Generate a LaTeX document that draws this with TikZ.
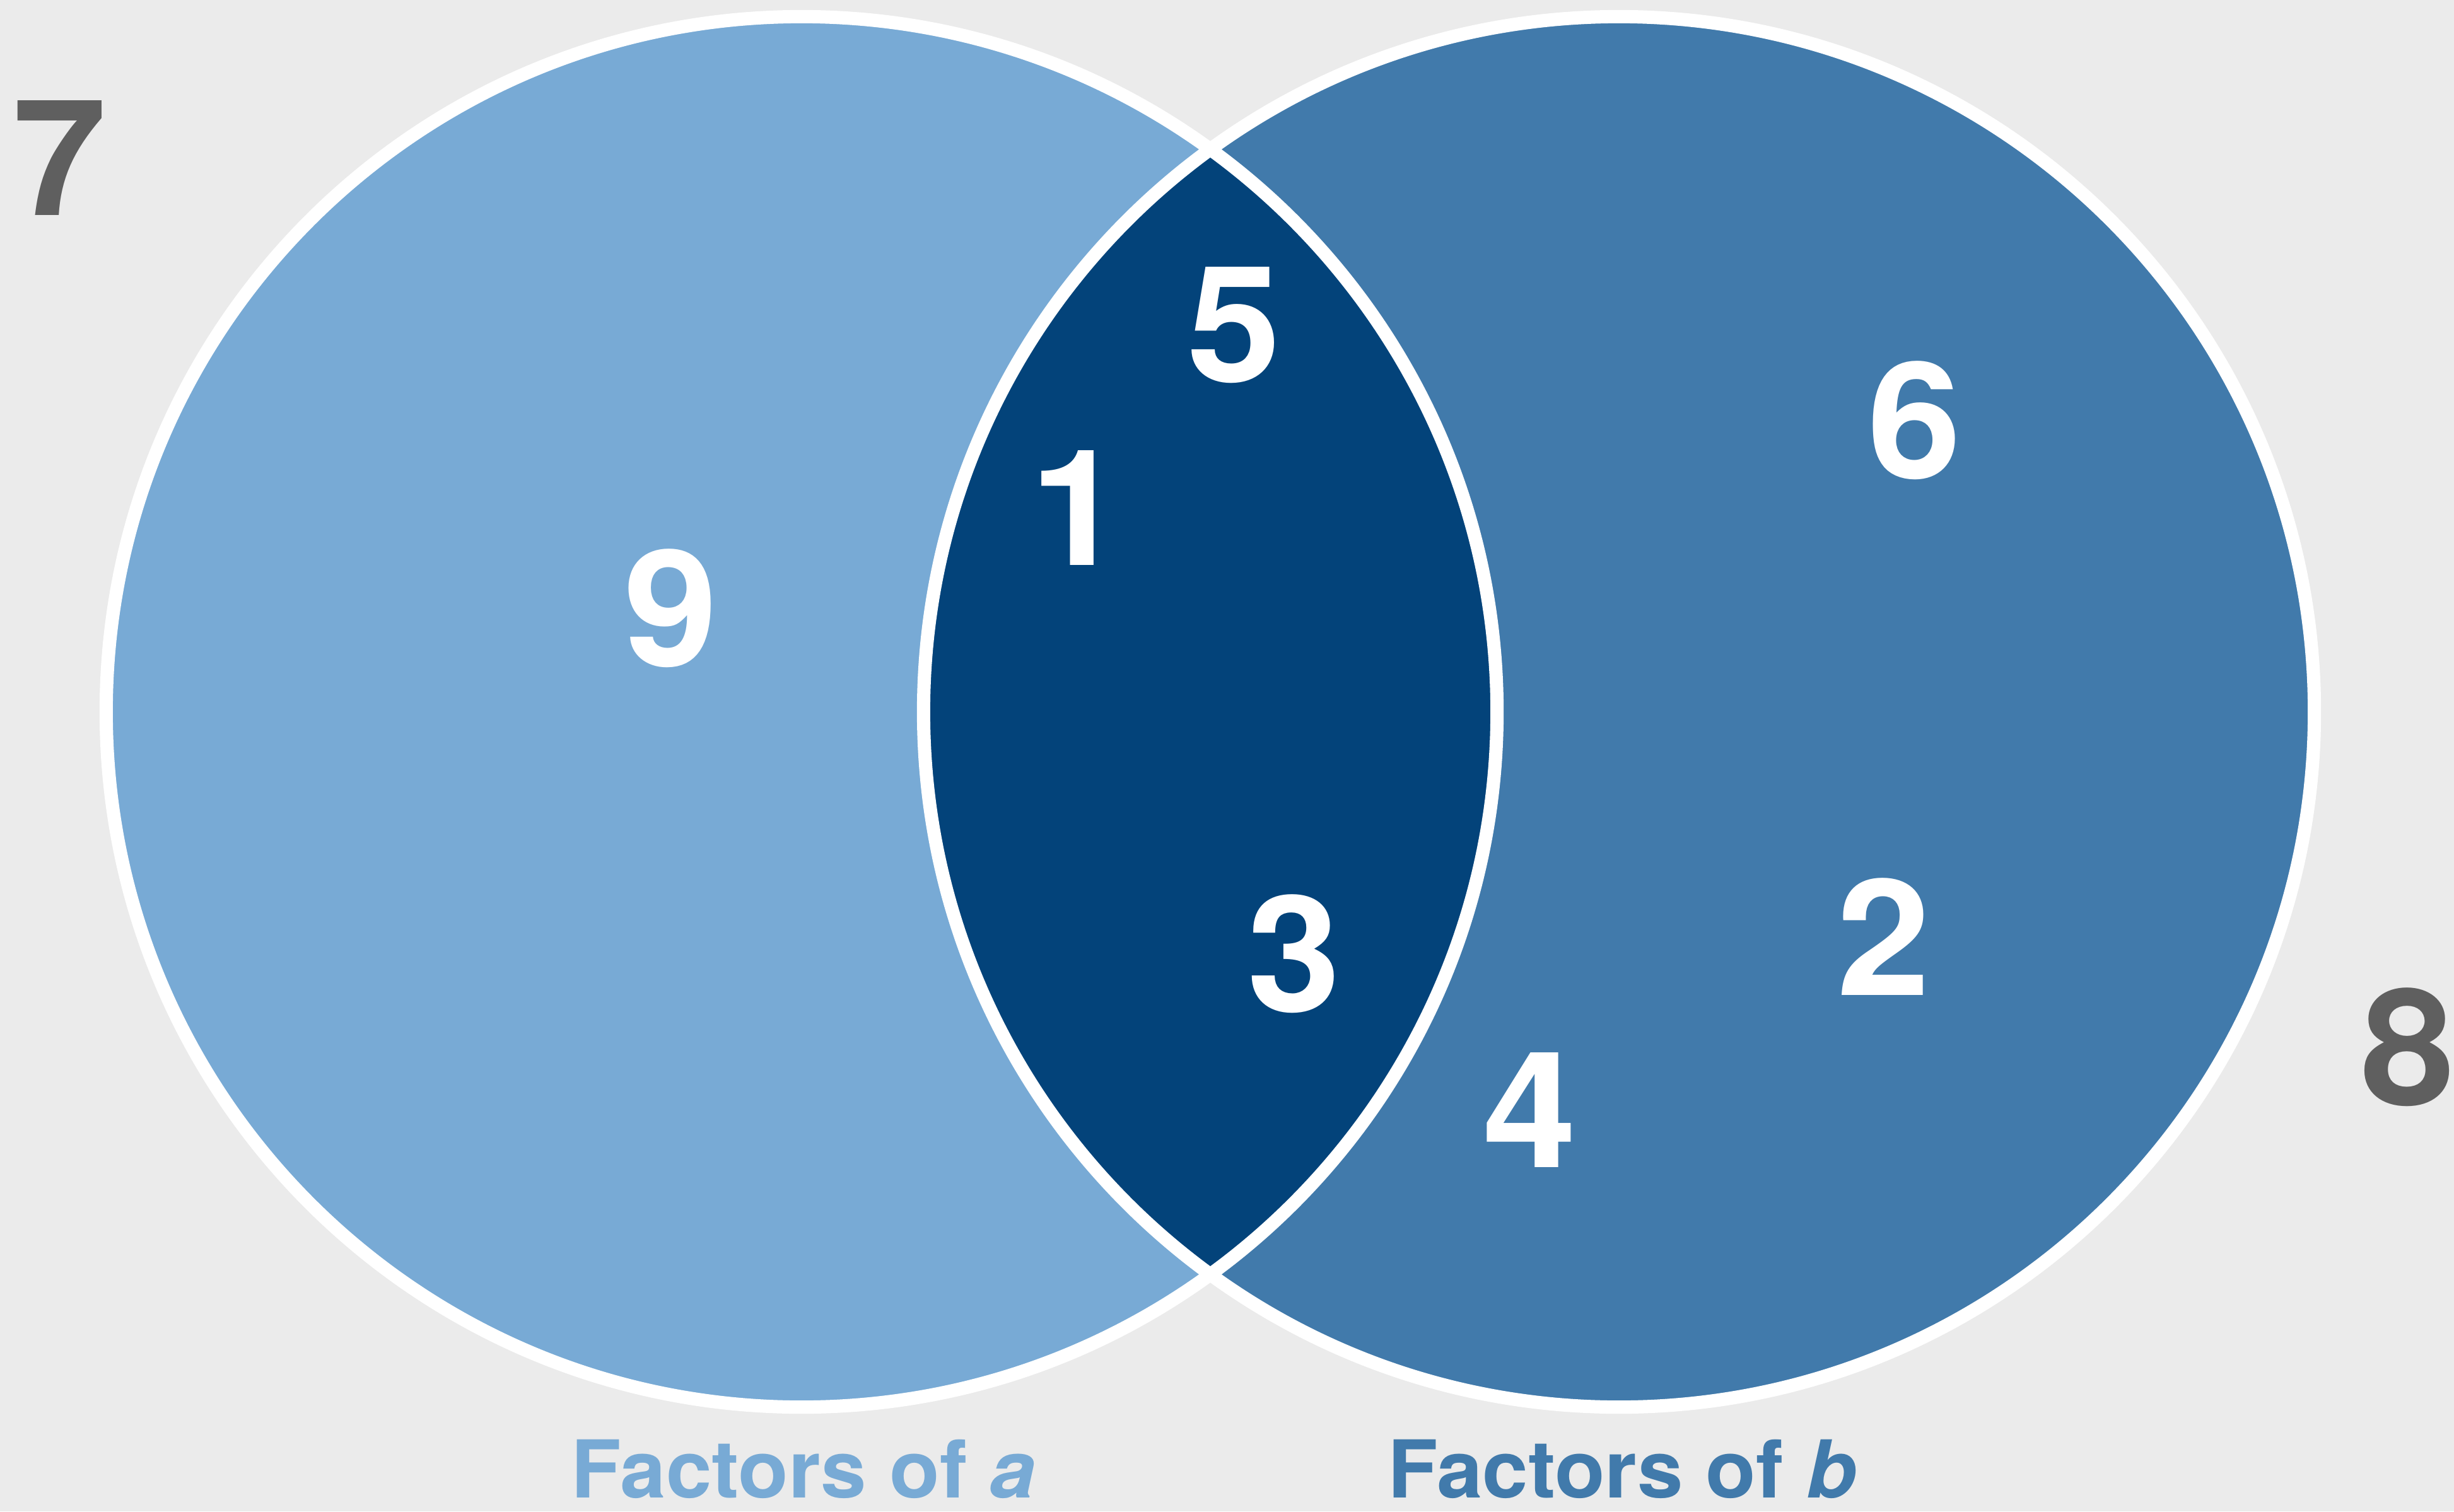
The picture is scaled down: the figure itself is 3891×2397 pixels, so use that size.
\documentclass[tikz,border=0pt]{standalone}
\usepackage{fontspec}
\setmainfont{TeX Gyre Heros}
\definecolor{bgc}{HTML}{EBEBEB}
\definecolor{setA}{HTML}{78AAD5}
\definecolor{setB}{HTML}{417AAB}
\definecolor{setAB}{HTML}{03437A}
\definecolor{outc}{HTML}{5F5F5F}
\tikzset{
  num/.style={anchor=base, inner sep=0pt, text=white, xscale=1.04, font=\fontsize{73}{80}\selectfont\bfseries},
  outnum/.style={num, text=outc},
  lbl/.style={anchor=base, inner sep=0pt, xscale=1.03, font=\fontsize{36}{40}\selectfont\bfseries},
  ring/.style={draw=white, line width=0.21cm}
}
\begin{document}
\begin{tikzpicture}[x=0.01cm,y=-0.01cm]
\fill[bgc] (0,0) rectangle (3891,2397);
\useasboundingbox (0,0) rectangle (3891,2397);
\coordinate (ca) at (1271,1129);
\coordinate (cb) at (2567,1129);
\fill[setA] (ca) circle[radius=11.02cm];
\fill[setB] (cb) circle[radius=11.02cm];
\begin{scope}
\clip (ca) circle[radius=11.02cm];
\fill[setAB] (cb) circle[radius=11.02cm];
\end{scope}
\draw[ring] (ca) circle[radius=11.02cm];
\draw[ring] (cb) circle[radius=11.02cm];
% numbers
\node[outnum] (n7) at (95,341) {7};
\node[outnum] (n8) at (3818,1752) {8};
\node[num] (n5) at (1957,605) {5};
\node[num] (n1) at (1708,896) {1};
\node[num] (n9) at (1064,1056) {9};
\node[num] (n6) at (3036,758) {6};
\node[num] (n3) at (2052,1604) {3};
\node[num] (n2) at (2987,1578) {2};
\node[num] (n4) at (2426,1851) {4};
% labels
\node[lbl, text=setA] (la) at (1274,2375) {Factors of \textit{a}};
\node[lbl, text=setB] (lb) at (2572,2375) {Factors of \textit{b}};
\end{tikzpicture}
\end{document}
